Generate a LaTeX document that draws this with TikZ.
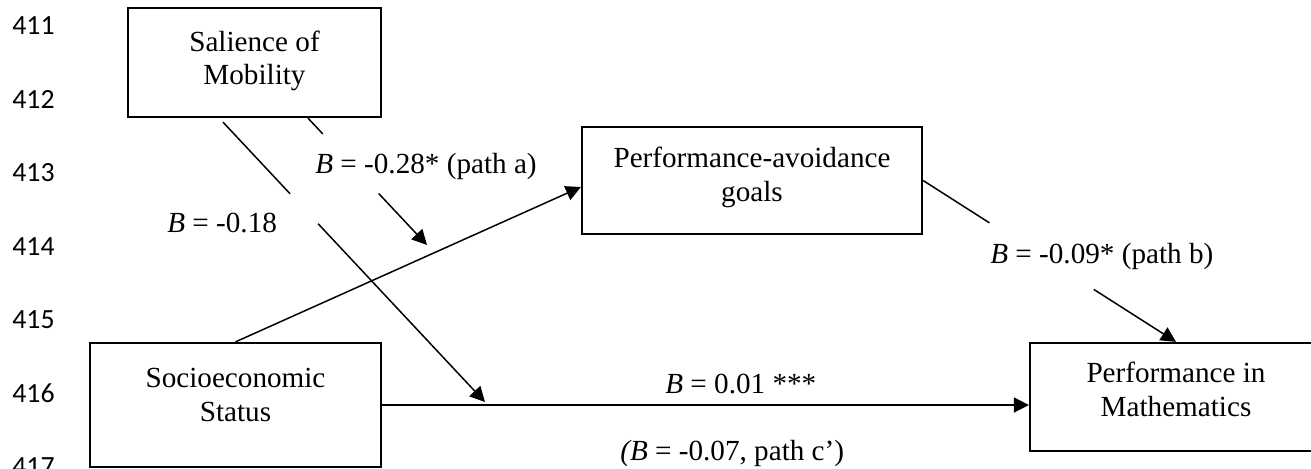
\documentclass[tikz,border=0pt]{standalone}
\usepackage{fontspec}
\setmainfont{Liberation Serif}
\newfontfamily\lnfont{Carlito}
\usetikzlibrary{arrows.meta,calc}
\tikzset{
  >={Triangle[length=.3cm,width=.3cm]},
  box/.style={draw,line width=1.3pt,align=center,font=\fontsize{16.6}{19.3}\selectfont,inner sep=0pt},
  lbl/.style={font=\fontsize{16.6}{19}\selectfont,anchor=base west,inner sep=0pt},
  lineno/.style={font=\lnfont\fontsize{15.8}{18}\selectfont,anchor=west,inner sep=0pt},
  link/.style={line width=.85pt},
  arr/.style={link,->}
}
\begin{document}
\begin{tikzpicture}[x=.02cm,y=-.02cm]
  \useasboundingbox (0,0) rectangle (1311,468);
  % line numbers
  \foreach \n [count=\i from 0] in {411,...,417}
    \node[lineno] (ln\n) at (12,26+73.5*\i) {\n};
  % variables
  \node[box,minimum width=5.06cm,minimum height=2.18cm,text depth=.19cm] (sal) at (254.5,62.5) {Salience of\\Mobility};
  \node[box,minimum width=5.82cm,minimum height=2.48cm,text depth=.4cm] (ses) at (235.5,405) {Socioeconomic\\Status};
  \node[box,minimum width=6.8cm,minimum height=2.14cm,text depth=.25cm] (pag) at (752,180.5) {Performance-avoidance\\goals};
  \node[box,minimum width=5.84cm,minimum height=2.16cm,text depth=.3cm] (pim) at (1176,397) {Performance in\\Mathematics};
  % moderation ends
  \coordinate (ma) at (427,245);
  \coordinate (mc) at (485,402);
  \coordinate (sa) at ($(sal.south)+(53.5,0)$);
  \coordinate (sc) at ($(sal.south)+(-31.5,4)$);
  % paths
  \draw[arr] (ses.north) -- ($(pag.west)+(0,6.5)$);
  \draw[arr] (ses.east) -- (ses.east -| pim.west);
  \draw[link] (pag.east) -- ($(pag.east)!.2625!(pim.north)$);
  \draw[arr] ($(pag.east)!.675!(pim.north)$) -- (pim.north);
  \draw[link] (sa) -- ($(sa)!.125!(ma)$);
  \draw[arr] ($(sa)!.594!(ma)$) -- (ma);
  \draw[link] (sc) -- ($(sc)!.256!(mc)$);
  \draw[arr] ($(sc)!.363!(mc)$) -- (mc);
  % coefficients
  \node[lbl] (la) at (315,173) {\textit{B} = -0.28* (path a)};
  \node[lbl] (lc) at (167,232) {\textit{B} = -0.18};
  \node[lbl] (ld) at (665,393) {\textit{B} = 0.01 ***};
  \node[lbl] (lt) at (620,460) {\textit{(B} = -0.07, path c’)};
  \node[lbl] (lb) at (990,263) {\textit{B} = -0.09* (path b)};
\end{tikzpicture}
\end{document}
